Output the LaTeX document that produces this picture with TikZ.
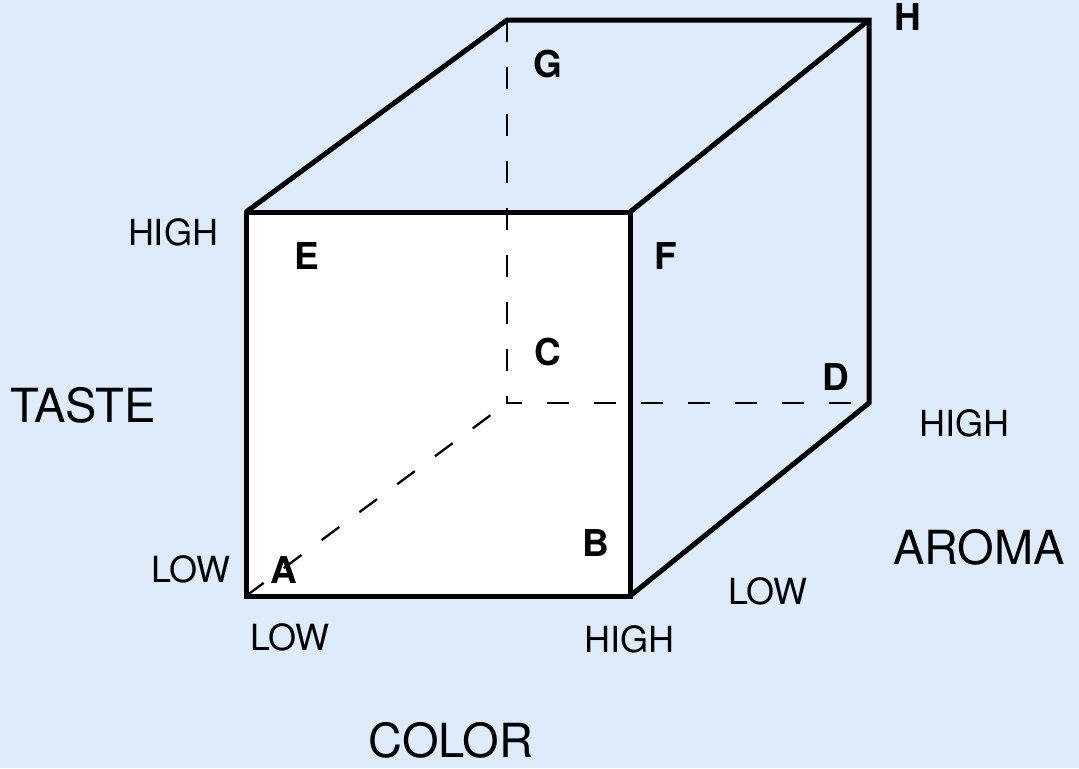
\documentclass[tikz,border=0pt]{standalone}
\usepackage{fontspec}
\setmainfont{TeX Gyre Heros}
\usetikzlibrary{positioning}
\definecolor{bgblue}{RGB}{222,235,251}
\tikzset{
  edge/.style={line width=2.5pt, line join=miter},
  hidden/.style={line width=1.15pt, dash pattern=on 11pt off 12.5pt},
  corner/.style={font=\fontsize{18.5}{22}\selectfont\bfseries},
  level/.style={font=\fontsize{18}{22}\selectfont},
  axis/.style={font=\fontsize{23.5}{28}\selectfont},
}

\begin{document}
\begin{tikzpicture}[x=0.5pt,y=-0.5pt]
\fill[bgblue] (0,0) rectangle (1079,768);
\useasboundingbox (0,0) rectangle (1079,768);
% corners of the cube
\coordinate (a) at (246,596);
\coordinate (b) at (630,596);
\coordinate (c) at (507,403);
\coordinate (d) at (869,403);
\coordinate (e) at (246,212);
\coordinate (f) at (630,212);
\coordinate (g) at (507,20);
\coordinate (h) at (869,20);
\fill[white] (a) rectangle (f);
\draw[hidden] (g) -- (c) -- (d);
\draw[hidden] (a) -- (c);
\draw[edge] (a) -- (b) -- (f) -- (e) -- cycle;
\draw[edge] (e) -- (g) -- (h) -- (d) -- (b);
\draw[edge] (h) -- (f);
% corner letters
\node[corner] (la) at (284,570) {A};
\node[corner] (lb) at (596,543) {B};
\node[corner] (lc) at (548,352) {C};
\node[corner] (ld) at (836,377) {D};
\node[corner] (le) at (307,256) {E};
\node[corner] (lf) at (666,256) {F};
\node[corner] (lg) at (548,64) {G};
\node[corner] (lh) at (908,17) {H};
% levels
\node[level] (tastehigh) at (173,232) {HIGH};
\node[level] (tastelow) at (191,569) {LOW};
\node[level] (colorlow) at (290,637) {LOW};
\node[level] (colorhigh) at (629,639) {HIGH};
\node[level] (aromalow) at (768,591) {LOW};
\node[level] (aromahigh) at (964,423) {HIGH};
% axes
\node[axis] (taste) at (83,405) {TASTE};
\node[axis] (color) at (451,740) {COLOR};
\node[axis] (aroma) at (979,547) {AROMA};
\end{tikzpicture}
\end{document}
